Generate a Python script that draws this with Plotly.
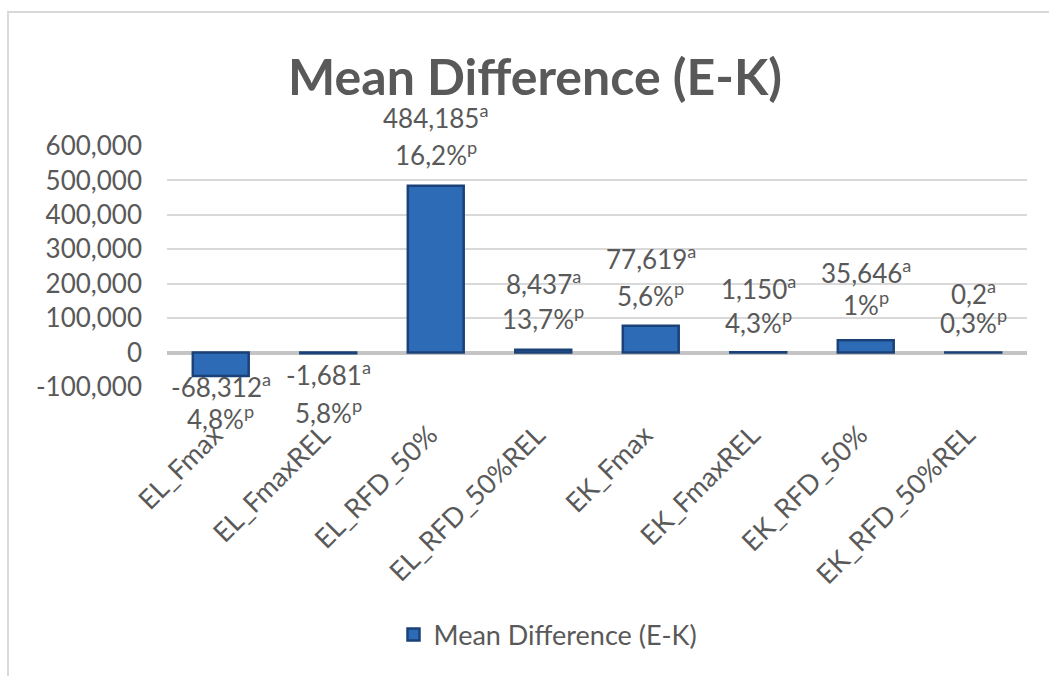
import plotly.graph_objects as go

# Measures compared (E-K)
categories = ["EL_Fmax", "EL_FmaxREL", "EL_RFD_50%", "EL_RFD_50%REL",
              "EK_Fmax", "EK_FmaxREL", "EK_RFD_50%", "EK_RFD_50%REL"]
# Mean differences, written with decimal comma as printed on the labels
mean_diff_labels = ["-68,312", "-1,681", "484,185", "8,437",
                    "77,619", "1,150", "35,646", "0,2"]
# Percent differences shown under each mean difference
pct_labels = ["4,8%", "5,8%", "16,2%", "13,7%", "5,6%", "4,3%", "1%", "0,3%"]

mean_diff = [float(s.replace(",", ".")) for s in mean_diff_labels]

y_ticks = [-100, 0, 100, 200, 300, 400, 500, 600]
y_tick_text = ["-100,000", "0", "100,000", "200,000", "300,000",
               "400,000", "500,000", "600,000"]

# label nudges in px (first line, second line), positive = downward
label_nudge = [(9, 41), (20, 58), (-69, -32), (-67, -32),
               (-68, -31), (-65, -31), (-69, -37), (-60, -31)]

W, H = 1049, 676
L, R, T, B = 167, 22, 146, 289
plot_w, plot_h = W - L - R, H - T - B


def px_x(px):
    return (px - L) / plot_w


def px_y(py):
    return (H - B - py) / plot_h


FONT = "Lato, 'Open Sans', sans-serif"
TXT = "#595959"
LBL = 27

fig = go.Figure()
fig.add_trace(go.Bar(
    x=categories, y=mean_diff, name="Mean Difference (E-K)",
    marker=dict(color="#2E6BB6", line=dict(color="#1B4278", width=2.5)),
    width=0.52,
))

annotations = []
for cat, val, vlab, plab, (d1, d2) in zip(categories, mean_diff, mean_diff_labels,
                                          pct_labels, label_nudge):
    annotations.append(dict(x=cat, y=val, xref="x", yref="y",
                            text=f"{vlab}<sup>a</sup>", showarrow=False,
                            yanchor="middle", yshift=-d1,
                            font=dict(family=FONT, size=LBL - 1, color=TXT)))
    annotations.append(dict(x=cat, y=val, xref="x", yref="y",
                            text=f"{plab}<sup>p</sup>", showarrow=False,
                            yanchor="middle", yshift=-d2,
                            font=dict(family=FONT, size=LBL - 1, color=TXT)))

fig.update_layout(
    width=W, height=H,
    margin=dict(l=L, r=R, t=T, b=B),
    paper_bgcolor="white", plot_bgcolor="white",
    font=dict(family=FONT, color=TXT),
    title=dict(text="<b>Mean Difference (E-K)</b>", x=535 / W, xref="container",
               xanchor="center", y=1 - 77 / H, yref="container", yanchor="middle",
               font=dict(family=FONT, size=50, color=TXT)),
    showlegend=True,
    legend=dict(orientation="h", x=px_x(548), xanchor="center",
                y=px_y(635), yanchor="middle",
                font=dict(family=FONT, size=LBL, color=TXT),
                itemwidth=30),
    annotations=annotations,
    shapes=[dict(type="rect", xref="paper", yref="paper",
                 x0=px_x(8), x1=px_x(W + 10), y0=px_y(H + 10), y1=px_y(12),
                 line=dict(color="#D9D9D9", width=2), layer="below")],
    bargap=0.48,
)

fig.update_xaxes(
    tickangle=-45, tickfont=dict(family=FONT, size=LBL, color=TXT),
    showgrid=False, showline=False, ticks="", automargin=False,
    ticklabelstandoff=26, ticklabelshift=-6,
)
fig.update_yaxes(
    range=[-100, 600], tickvals=y_ticks, ticktext=y_tick_text,
    tickfont=dict(family=FONT, size=LBL - 1, color=TXT),
    showgrid=True, gridcolor="#D9D9D9", gridwidth=2,
    zeroline=True, zerolinecolor="#C4C4C4", zerolinewidth=4,
    showline=False, ticks="", ticklabelstandoff=24, automargin=False,
)

fig.write_html("out.html")
